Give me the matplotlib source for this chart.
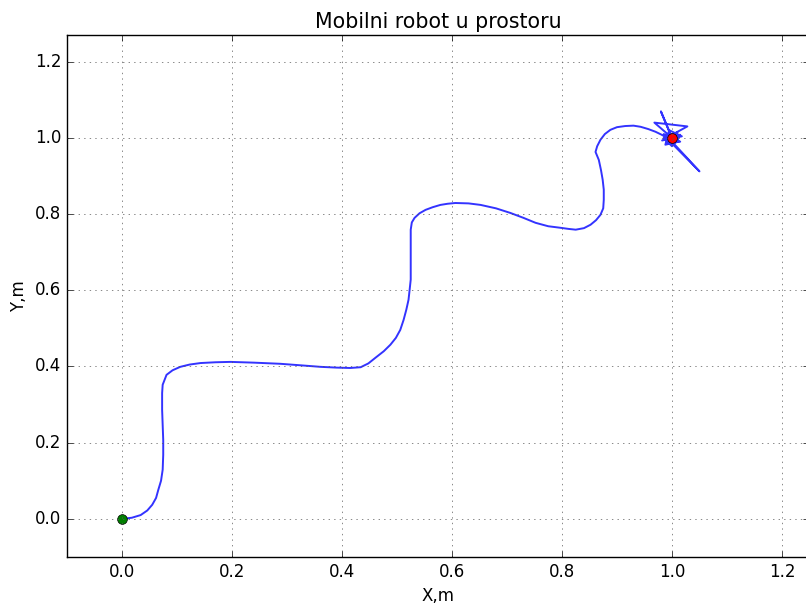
import matplotlib
matplotlib.use("Agg")
import matplotlib.pyplot as plt

# robot trajectory
x_path = [0.0, 0.018, 0.034, 0.046, 0.055, 0.062, 0.066, 0.071, 0.074, 0.075, 0.075, 0.074, 0.073, 0.073,
          0.074, 0.081, 0.092, 0.106, 0.123, 0.143, 0.17, 0.197, 0.24, 0.288, 0.325, 0.361, 0.39, 0.415,
          0.434, 0.448, 0.461, 0.476, 0.488, 0.498, 0.506, 0.512, 0.517, 0.521, 0.523, 0.525, 0.525,
          0.525, 0.525, 0.527, 0.532, 0.541, 0.552, 0.565, 0.579, 0.592, 0.606, 0.63, 0.652, 0.68, 0.706,
          0.73, 0.752, 0.775, 0.797, 0.812, 0.825, 0.84, 0.852, 0.862, 0.87, 0.875, 0.876, 0.876, 0.874,
          0.871, 0.867, 0.861, 0.864, 0.87, 0.878, 0.888, 0.9, 0.915, 0.93, 0.943, 0.957, 0.97, 0.98,
          0.988, 1.0, 0.98, 1.0, 0.968, 1.028, 0.99, 1.05, 1.0, 0.985, 1.015, 0.99, 1.01, 0.982, 1.018,
          0.995, 0.988, 1.012, 1.005, 0.985, 1.0, 1.015, 0.992, 1.0]
y_path = [0.0, 0.003, 0.01, 0.022, 0.037, 0.055, 0.076, 0.1, 0.129, 0.168, 0.207, 0.246, 0.286, 0.33,
          0.352, 0.378, 0.39, 0.399, 0.405, 0.409, 0.411, 0.412, 0.41, 0.407, 0.403, 0.399, 0.397, 0.396,
          0.398, 0.408, 0.423, 0.44, 0.457, 0.475, 0.496, 0.522, 0.549, 0.575, 0.601, 0.628, 0.654,
          0.71, 0.759, 0.778, 0.79, 0.802, 0.811, 0.818, 0.824, 0.827, 0.829, 0.828, 0.824, 0.815, 0.803,
          0.79, 0.777, 0.768, 0.764, 0.761, 0.759, 0.763, 0.772, 0.784, 0.798, 0.815, 0.837, 0.864, 0.89,
          0.915, 0.942, 0.963, 0.978, 0.995, 1.01, 1.021, 1.028, 1.031, 1.032, 1.029, 1.023, 1.016, 1.009,
          1.003, 1.0, 1.069, 1.0, 1.04, 1.03, 1.0, 0.912, 0.99, 1.01, 0.99, 0.985, 1.015, 0.993, 1.004,
          1.02, 0.982, 0.99, 1.012, 1.0, 0.978, 1.008, 1.002, 1.0]

start = (0.0, 0.0)
goal = (1.0, 1.0)

plt.style.use('classic')
fig = plt.figure(figsize=(8.06, 6.06), dpi=100, facecolor='white')
ax = fig.add_axes([0.0831, 0.0809, 0.9212, 0.8614])

ax.plot(x_path, y_path, color=(0.2, 0.2, 1.0), linewidth=1.4)
ax.plot(start[0], start[1], 'o', color='green', markersize=7)
ax.plot(goal[0], goal[1], 'ro', markersize=7)

ax.set_xlim(-0.1, 1.25)
ax.set_ylim(-0.1, 1.27)
ax.set_xticks([0.0, 0.2, 0.4, 0.6, 0.8, 1.0, 1.2])
ax.set_yticks([0.0, 0.2, 0.4, 0.6, 0.8, 1.0, 1.2])
ax.grid(True, color='0.35')
ax.set_title('Mobilni robot u prostoru', fontsize=14.8)
ax.set_xlabel('X,m')
ax.set_ylabel('Y,m')

fig.savefig('out.png', dpi=100, facecolor='white')
